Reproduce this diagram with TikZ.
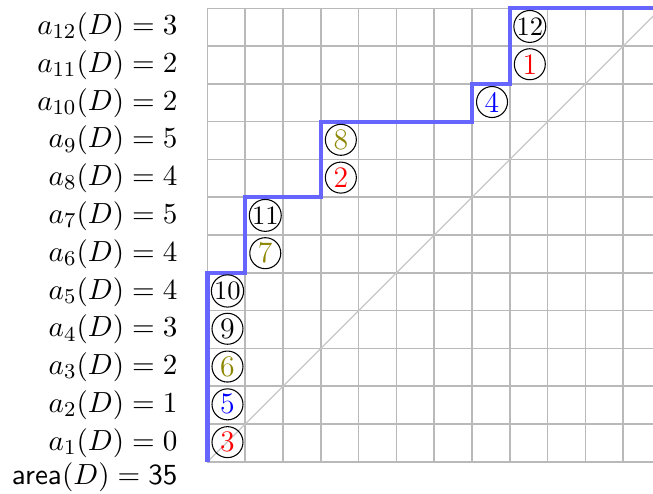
\documentclass[tikz,border=0pt]{standalone}
\usetikzlibrary{positioning}

\begin{document}
\begin{tikzpicture}[
    x=0.5cm, y=0.5cm,
    % Styles
    gridline/.style={draw=gray!55, line width=0.6pt},
    diag/.style={draw=gray!45, line width=0.5pt},
    dyck/.style={draw=blue!60, line width=1.6pt},
    label/.style={anchor=east, inner sep=0pt, font=\fontsize{11.2}{13}\selectfont},
    tag/.style={circle, draw, thin, inner sep=0pt, minimum size=0.41cm, font=\fontsize{11.2}{13}\selectfont},
    tagg/.style={tag, font=\fontsize{10}{12}\selectfont}
]
    \useasboundingbox (-5.49,-0.847) rectangle (11.79,12.22);

    % --- Grid and diagonal ---
    \draw [gridline, step=1] (0,0) grid (12,12);
    \draw [diag] (0,0) -- (12,12);

    % --- Dyck path ---
    \draw [dyck] (0,0) -- (0,5) -- (1,5) -- (1,7) -- (3,7) -- (3,9)
        -- (7,9) -- (7,10) -- (8,10) -- (8,12) -- (12,12);

    % --- Row values ---
    \node [label] (a12) at (-0.78,11.5) {$a_{12}(D) = 3$};
    \node [label] (a11) at (-0.78,10.5) {$a_{11}(D) = 2$};
    \node [label] (a10) at (-0.78,9.5) {$a_{10}(D) = 2$};
    \node [label] (a9) at (-0.78,8.5) {$a_{9}(D) = 5$};
    \node [label] (a8) at (-0.78,7.5) {$a_{8}(D) = 4$};
    \node [label] (a7) at (-0.78,6.5) {$a_{7}(D) = 5$};
    \node [label] (a6) at (-0.78,5.5) {$a_{6}(D) = 4$};
    \node [label] (a5) at (-0.78,4.5) {$a_{5}(D) = 4$};
    \node [label] (a4) at (-0.78,3.5) {$a_{4}(D) = 3$};
    \node [label] (a3) at (-0.78,2.5) {$a_{3}(D) = 2$};
    \node [label] (a2) at (-0.78,1.5) {$a_{2}(D) = 1$};
    \node [label] (a1) at (-0.78,0.5) {$a_{1}(D) = 0$};
    \node [label] (area) at (-0.78,-0.42) {$\mathsf{area}(D) = \mathsf{35}$};

    % --- Circled labels right of the path ---
    \node [tag, text=red] (c1) at (0.53,0.52) {3};
    \node [tag, text=blue] (c2) at (0.53,1.52) {5};
    \node [tag, text=olive] (c3) at (0.53,2.52) {6};
    \node [tag] (c4) at (0.53,3.52) {9};
    \node [tagg] (c5) at (0.53,4.52) {10};
    \node [tag, text=olive] (c6) at (1.53,5.52) {7};
    \node [tagg] (c7) at (1.53,6.52) {11};
    \node [tag, text=red] (c8) at (3.53,7.52) {2};
    \node [tag, text=olive] (c9) at (3.53,8.52) {8};
    \node [tag, text=blue] (c10) at (7.53,9.52) {4};
    \node [tag, text=red] (c11) at (8.53,10.52) {1};
    \node [tagg] (c12) at (8.53,11.52) {12};

\end{tikzpicture}
\end{document}
